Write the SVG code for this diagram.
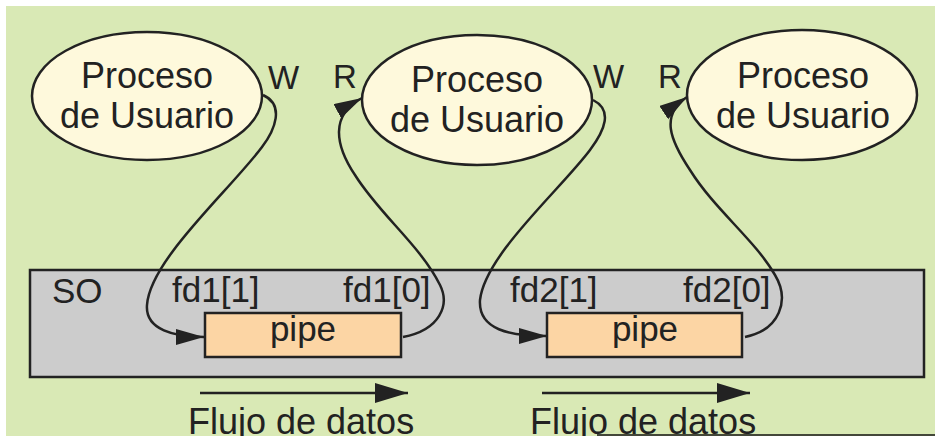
<svg xmlns="http://www.w3.org/2000/svg" width="935" height="436" viewBox="0 0 935 436">
  <style>
    .t { font-family: "Liberation Sans", Arial, sans-serif; fill: #222; }
    .big { font-size: 36px; }
    .mid { font-size: 35px; }
    .proc { fill: #fef9dc; stroke: #222; stroke-width: 2.5; }
    .pipe { fill: #fcd5a4; stroke: #222; stroke-width: 2.5; }
    .conn { fill: none; stroke: #222; stroke-width: 2.5; }
  </style>
  <defs>
    <marker id="ah" markerUnits="userSpaceOnUse" markerWidth="30" markerHeight="18" refX="28" refY="8" orient="auto">
      <path d="M0,0 L28,8 L0,16 z" fill="#222"/>
    </marker>
    <marker id="ahf" markerUnits="userSpaceOnUse" markerWidth="36" markerHeight="22" refX="33" refY="10" orient="auto">
      <path d="M0,0 L33,10 L0,20 z" fill="#222"/>
    </marker>
  </defs>
  <rect x="0" y="0" width="935" height="436" fill="#ffffff"/>
  <rect x="6" y="6" width="929" height="430" fill="#d9e9b5"/>

  <g id="so">
    <rect x="30" y="270" width="894" height="107" fill="#cccccc" stroke="#222" stroke-width="2.5"/>
    <text class="t" x="52" y="303" font-size="35">SO</text>
  </g>

  <g id="proc1">
    <ellipse class="proc" cx="147" cy="96" rx="115" ry="64"/>
    <text class="t big" x="147" y="88" text-anchor="middle">Proceso</text>
    <text class="t big" x="147" y="128" text-anchor="middle">de Usuario</text>
  </g>
  <g id="proc2">
    <ellipse class="proc" cx="477" cy="100" rx="115" ry="65"/>
    <text class="t big" x="477" y="92" text-anchor="middle">Proceso</text>
    <text class="t big" x="477" y="132" text-anchor="middle">de Usuario</text>
  </g>
  <g id="proc3">
    <ellipse class="proc" cx="802" cy="95" rx="115" ry="65"/>
    <text class="t big" x="803" y="88" text-anchor="middle">Proceso</text>
    <text class="t big" x="803" y="128" text-anchor="middle">de Usuario</text>
  </g>

  <g id="pipe1">
    <rect class="pipe" x="205" y="313" width="196" height="44"/>
    <text class="t mid" x="303" y="341" text-anchor="middle">pipe</text>
  </g>
  <g id="pipe2">
    <rect class="pipe" x="547" y="313" width="195" height="44"/>
    <text class="t mid" x="645" y="341" text-anchor="middle">pipe</text>
  </g>

  <g id="labels">
    <text class="t" x="268" y="89" font-size="33">W</text>
    <text class="t" x="333" y="88" font-size="33">R</text>
    <text class="t" x="593" y="88" font-size="33">W</text>
    <text class="t" x="658" y="88" font-size="33">R</text>
    <text class="t mid" x="172" y="302">fd1[1]</text>
    <text class="t mid" x="343" y="302">fd1[0]</text>
    <text class="t mid" x="510" y="302">fd2[1]</text>
    <text class="t mid" x="683" y="302">fd2[0]</text>
    <text class="t" x="188" y="434" font-size="36">Flujo de datos</text>
    <text class="t" x="530" y="434" font-size="36">Flujo de datos</text>
  </g>

  <g id="connectors">
    <path class="conn" d="M263,95 C285,105 275,130 262,147 C230,190 150,260 147,305 C145,330 175,337 204,337" marker-end="url(#ah)"/>
    <path class="conn" d="M403,337 C440,330 450,305 440,285 C420,245 380,215 355,175 C335,145 330,115 362,98" marker-end="url(#ah)"/>
    <path class="conn" d="M593,100 C613,110 605,130 590,150 C560,190 485,255 480,300 C478,330 510,336 547,336" marker-end="url(#ah)"/>
    <path class="conn" d="M745,337 C780,330 790,300 775,275 C755,240 715,210 690,170 C670,140 660,115 687,97" marker-end="url(#ah)"/>
    <line class="conn" x1="200" y1="393" x2="408" y2="393" marker-end="url(#ahf)"/>
    <line class="conn" x1="542" y1="393" x2="750" y2="393" marker-end="url(#ahf)"/>
    <line x1="597" y1="435" x2="935" y2="435" stroke="#111" stroke-width="1.5"/>
  </g>
</svg>
